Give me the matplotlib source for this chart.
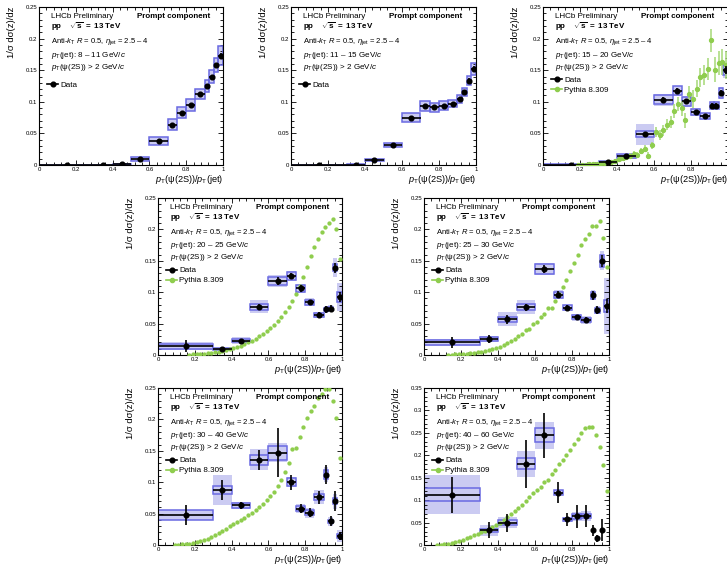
import numpy as np
import matplotlib
matplotlib.use("Agg")
import matplotlib.pyplot as plt
from matplotlib.lines import Line2D
from matplotlib.ticker import MultipleLocator, FuncFormatter

plt.rcParams['font.family'] = ['Liberation Sans', 'DejaVu Sans']
plt.rcParams['mathtext.fontset'] = 'custom'
plt.rcParams['mathtext.rm'] = 'Liberation Sans'
plt.rcParams['mathtext.it'] = 'Liberation Sans:italic'
plt.rcParams['mathtext.bf'] = 'Liberation Sans:bold'

# ---------------- measured z bins ----------------
z_centers = [0.15, 0.35, 0.45, 0.55, 0.65, 0.725, 0.775, 0.825, 0.875, 0.9125, 0.9375, 0.9625, 0.9875]
z_halfwidth = [0.15, 0.05, 0.05, 0.05, 0.05, 0.025, 0.025, 0.025, 0.025, 0.0125, 0.0125, 0.0125, 0.0125]

jet_pt_labels = ["8 – 11", "11 – 15", "15 – 20", "20 – 25", "25 – 30", "30 – 40", "40 – 60"]

# data: value, statistical error, outlined systematic box, shaded systematic box
data_8_11 = [0.0, 0.0, 0.0008, 0.0095, 0.038, 0.064, 0.083, 0.095, 0.112, 0.1255, 0.140, 0.158, 0.173]
stat_8_11 = [0.0005, 0.0005, 0.0008, 0.0015, 0.002, 0.002, 0.002, 0.002, 0.002, 0.002, 0.003, 0.003, 0.004]
sys_8_11 = [0.0005, 0.0005, 0.001, 0.003, 0.006, 0.009, 0.009, 0.0095, 0.008, 0.0095, 0.0105, 0.011, 0.015]
shade_8_11 = [0.0005, 0.0005, 0.001, 0.003, 0.006, 0.009, 0.009, 0.0095, 0.008, 0.0095, 0.0105, 0.011, 0.015]

data_11_15 = [0.0, 0.0003, 0.008, 0.032, 0.075, 0.093, 0.091, 0.094, 0.097, 0.104, 0.116, 0.1335, 0.1525]
stat_11_15 = [0.0005, 0.0005, 0.001, 0.002, 0.002, 0.002, 0.002, 0.002, 0.002, 0.003, 0.003, 0.004, 0.004]
sys_11_15 = [0.0005, 0.0005, 0.0015, 0.003, 0.007, 0.0075, 0.0065, 0.0065, 0.006, 0.006, 0.0065, 0.0075, 0.0095]
shade_11_15 = [0.0005, 0.0005, 0.0015, 0.003, 0.007, 0.0075, 0.0065, 0.0065, 0.006, 0.006, 0.0065, 0.0075, 0.0095]

data_15_20 = [0.0005, 0.005, 0.014, 0.0486, 0.103, 0.1175, 0.1005, 0.084, 0.077, 0.094, 0.094, 0.114, 0.150]
stat_15_20 = [0.001, 0.002, 0.002, 0.003, 0.004, 0.004, 0.004, 0.003, 0.003, 0.004, 0.004, 0.005, 0.006]
sys_15_20 = [0.001, 0.002, 0.003, 0.0045, 0.007, 0.007, 0.007, 0.005, 0.005, 0.005, 0.005, 0.008, 0.008]
shade_15_20 = [0.001, 0.002, 0.004, 0.017, 0.0095, 0.008, 0.008, 0.006, 0.006, 0.006, 0.006, 0.009, 0.012]

data_20_25 = [0.0143, 0.0095, 0.023, 0.077, 0.118, 0.126, 0.106, 0.084, 0.064, 0.0725, 0.074, 0.139, 0.092]
stat_20_25 = [0.009, 0.002, 0.003, 0.004, 0.007, 0.005, 0.005, 0.004, 0.004, 0.005, 0.005, 0.008, 0.008]
sys_20_25 = [0.004, 0.002, 0.003, 0.005, 0.007, 0.006, 0.005, 0.004, 0.003, 0.003, 0.003, 0.006, 0.008]
shade_20_25 = [0.007, 0.002, 0.006, 0.010, 0.010, 0.008, 0.007, 0.006, 0.005, 0.005, 0.005, 0.015, 0.022]

data_25_30 = [0.020, 0.0255, 0.057, 0.076, 0.137, 0.096, 0.075, 0.060, 0.056, 0.095, 0.0715, 0.150, 0.078]
stat_25_30 = [0.009, 0.006, 0.007, 0.006, 0.007, 0.006, 0.004, 0.004, 0.004, 0.007, 0.006, 0.010, 0.011]
sys_25_30 = [0.004, 0.003, 0.004, 0.005, 0.008, 0.005, 0.004, 0.003, 0.003, 0.006, 0.004, 0.010, 0.010]
shade_25_30 = [0.005, 0.005, 0.011, 0.011, 0.009, 0.007, 0.005, 0.006, 0.006, 0.008, 0.006, 0.015, 0.045]

data_30_40 = [0.048, 0.0875, 0.063, 0.136, 0.147, 0.100, 0.058, 0.0515, 0.076, 0.112, 0.0375, 0.0695, 0.014]
stat_30_40 = [0.016, 0.016, 0.005, 0.016, 0.039, 0.012, 0.007, 0.007, 0.010, 0.015, 0.008, 0.016, 0.006]
sys_30_40 = [0.008, 0.006, 0.004, 0.008, 0.011, 0.006, 0.004, 0.004, 0.005, 0.007, 0.003, 0.005, 0.003]
shade_30_40 = [0.008, 0.024, 0.005, 0.017, 0.015, 0.008, 0.007, 0.008, 0.011, 0.012, 0.007, 0.012, 0.010]

data_40_60 = [0.112, 0.0325, 0.050, 0.181, 0.245, 0.117, 0.057, 0.064, 0.0645, 0.0325, 0.015, 0.0335]
stat_40_60 = [0.040, 0.018, 0.020, 0.054, 0.050, 0.024, 0.015, 0.025, 0.025, 0.013, 0.008, 0.025]
sys_40_60 = [0.015, 0.003, 0.005, 0.012, 0.016, 0.005, 0.003, 0.005, 0.005, 0.0, 0.0, 0.0]
shade_40_60 = [0.043, 0.012, 0.012, 0.029, 0.030, 0.006, 0.006, 0.010, 0.012, 0.004, 0.004, 0.004]

# ---------------- Pythia 8.309 prediction (bin centres of width 0.02) ----------------
pythia_z = [0.01, 0.03, 0.05, 0.07, 0.09, 0.11, 0.13, 0.15, 0.17, 0.19,
            0.21, 0.23, 0.25, 0.27, 0.29, 0.31, 0.33, 0.35, 0.37, 0.39,
            0.41, 0.43, 0.45, 0.47, 0.49, 0.51, 0.53, 0.55, 0.57, 0.59,
            0.61, 0.63, 0.65, 0.67, 0.69, 0.71, 0.73, 0.75, 0.77, 0.79,
            0.81, 0.83, 0.85, 0.87, 0.89, 0.91, 0.93, 0.95, 0.97, 0.99]

pythia_15_20 = [0.0003, 0.0004, 0.0006, 0.0008, 0.001, 0.0015, 0.002, 0.003, 0.004, 0.0055,
                0.007, 0.009, 0.011, 0.013, 0.015, 0.018, 0.016, 0.022, 0.026, 0.015,
                0.031, 0.052, 0.047, 0.055, 0.064, 0.068, 0.086, 0.097, 0.090, 0.071,
                0.112, 0.104, 0.121, 0.139, 0.143, 0.152, 0.197, 0.151, 0.161, 0.163, 0.158]
pythia_err_15_20 = [0.0008, 0.0008, 0.001, 0.001, 0.001, 0.0012, 0.0015, 0.0015, 0.002, 0.002, 0.0025,
                    0.003, 0.003, 0.003, 0.0035, 0.004, 0.004, 0.0045, 0.005, 0.0055, 0.006,
                    0.008, 0.008, 0.009, 0.009, 0.010, 0.011, 0.011, 0.012, 0.012, 0.013,
                    0.014, 0.014, 0.015, 0.016, 0.017, 0.018, 0.020, 0.019, 0.020, 0.022]

pythia_20_25 = [0.0005, 0.0008, 0.0012, 0.0016, 0.002, 0.0026, 0.0032, 0.004, 0.005, 0.006,
                0.0072, 0.0088, 0.0105, 0.0125, 0.015, 0.0175, 0.020, 0.023, 0.026, 0.030,
                0.034, 0.038, 0.043, 0.048, 0.054, 0.061, 0.068, 0.077, 0.086, 0.097,
                0.110, 0.124, 0.140, 0.157, 0.172, 0.185, 0.196, 0.204, 0.210, 0.216,
                0.201, 0.153]

pythia_25_30 = [0.0003, 0.0005, 0.0008, 0.001, 0.0015, 0.002, 0.0025, 0.003, 0.004, 0.005,
                0.006, 0.0075, 0.009, 0.011, 0.013, 0.016, 0.019, 0.022, 0.025, 0.031,
                0.034, 0.040, 0.041, 0.050, 0.053, 0.060, 0.066, 0.075, 0.075, 0.086,
                0.097, 0.108, 0.120, 0.133, 0.146, 0.160, 0.175, 0.185, 0.192, 0.206,
                0.206, 0.213, 0.186, 0.140]

pythia_30_40 = [0.0003, 0.0005, 0.001, 0.0015, 0.002, 0.003, 0.004, 0.006, 0.008, 0.010,
                0.013, 0.016, 0.019, 0.022, 0.026, 0.030, 0.033, 0.036, 0.040, 0.043,
                0.047, 0.051, 0.055, 0.060, 0.065, 0.071, 0.078, 0.085, 0.094, 0.104,
                0.116, 0.130, 0.153, 0.154, 0.172, 0.188, 0.202, 0.213, 0.222, 0.234,
                0.240, 0.248, 0.249, 0.229, 0.203, 0.138]

pythia_40_60 = [0.0003, 0.001, 0.002, 0.003, 0.005, 0.007, 0.009, 0.012, 0.015, 0.018,
                0.022, 0.025, 0.028, 0.032, 0.036, 0.040, 0.044, 0.048, 0.055, 0.062,
                0.068, 0.075, 0.082, 0.090, 0.098, 0.108, 0.115, 0.122, 0.130, 0.140,
                0.145, 0.158, 0.168, 0.180, 0.190, 0.200, 0.212, 0.225, 0.237, 0.250,
                0.261, 0.262, 0.262, 0.246, 0.218, 0.178, 0.121]

# ---------------- style ----------------
W, H = 727, 566
SHADE = '#cbcbf2'
EDGE = '#6a6ae2'
GREEN = '#8fcd4e'
GREEN_ERR = '#a6d877'
TXT = 5.8

panels = [
    # axes box in pixels (left, top, width, height), data arrays, prediction, y range
    dict(box=(39, 7, 184, 158), y=data_8_11, st=stat_8_11, sy=sys_8_11, sh=shade_8_11,
         py=None, pe=None, jet=jet_pt_labels[0], ymax=0.25),
    dict(box=(291, 7, 185, 158), y=data_11_15, st=stat_11_15, sy=sys_11_15, sh=shade_11_15,
         py=None, pe=None, jet=jet_pt_labels[1], ymax=0.25),
    dict(box=(543, 7, 185, 158), y=data_15_20, st=stat_15_20, sy=sys_15_20, sh=shade_15_20,
         py=pythia_15_20, pe=pythia_err_15_20, jet=jet_pt_labels[2], ymax=0.25),
    dict(box=(158, 198, 184, 157), y=data_20_25, st=stat_20_25, sy=sys_20_25, sh=shade_20_25,
         py=pythia_20_25, pe=None, jet=jet_pt_labels[3], ymax=0.25),
    dict(box=(424, 198, 185, 157), y=data_25_30, st=stat_25_30, sy=sys_25_30, sh=shade_25_30,
         py=pythia_25_30, pe=None, jet=jet_pt_labels[4], ymax=0.25),
    dict(box=(158, 388, 184, 157), y=data_30_40, st=stat_30_40, sy=sys_30_40, sh=shade_30_40,
         py=pythia_30_40, pe=None, jet=jet_pt_labels[5], ymax=0.25),
    dict(box=(424, 388, 185, 157), y=data_40_60, st=stat_40_60, sy=sys_40_60, sh=shade_40_60,
         py=pythia_40_60, pe=None, jet=jet_pt_labels[6], ymax=0.35),
]

fig = plt.figure(figsize=(W / 100, H / 100), dpi=100)
fig.patch.set_facecolor('white')

fmt = FuncFormatter(lambda v, p: f'{v:g}')

for p in panels:
    l, t, w, h = p['box']
    ax = fig.add_axes([l / W, 1 - (t + h) / H, w / W, h / H])
    n = len(p['y'])
    xc = np.array(z_centers[:n])
    hw = np.array(z_halfwidth[:n])
    y = np.array(p['y'])
    st = np.array(p['st'])
    sy = np.array(p['sy'])
    sh = np.array(p['sh'])

    # systematic uncertainty boxes
    ax.bar(xc, 2 * sh, width=2 * hw, bottom=y - sh, color=SHADE, edgecolor='none', zorder=1)
    ax.bar(xc, 2 * sy, width=2 * hw, bottom=y - sy, fill=False, edgecolor=EDGE,
           linewidth=1.1, zorder=2)

    handles = []
    labels = []
    # Pythia prediction
    if p['py'] is not None:
        pv = np.array(p['py'])
        pz = np.array(pythia_z[-len(pv):])
        if p['pe'] is not None:
            ax.errorbar(pz, pv, yerr=np.array(p['pe']), fmt='o', color=GREEN, ecolor=GREEN_ERR,
                        ms=2.8, elinewidth=1.1, capsize=0, zorder=3)
        else:
            ax.plot(pz, pv, 'o', color=GREEN, ms=3.1, mew=0, zorder=3)

    # data points
    ax.errorbar(xc, y, xerr=hw, yerr=st, fmt='o', color='black', ms=3.4,
                elinewidth=1.2, capsize=0, zorder=4)
    handles.append(Line2D([], [], color='black', marker='o', ms=3.4, lw=1.2))
    labels.append('Data')
    if p['py'] is not None:
        handles.append(Line2D([], [], color=GREEN, marker='o', ms=3.0, lw=1.2))
        labels.append('Pythia 8.309')

    ax.set_xlim(0, 1)
    ax.set_ylim(0, p['ymax'])
    ax.xaxis.set_major_locator(MultipleLocator(0.2))
    ax.xaxis.set_minor_locator(MultipleLocator(0.04))
    ax.yaxis.set_major_locator(MultipleLocator(0.05))
    ax.yaxis.set_minor_locator(MultipleLocator(0.01))
    ax.xaxis.set_major_formatter(fmt)
    ax.yaxis.set_major_formatter(fmt)
    ax.tick_params(which='both', direction='in', top=True, right=True,
                   labelsize=4.3, width=0.6, pad=1.5)
    ax.tick_params(which='major', length=3.8)
    ax.tick_params(which='minor', length=2.0)
    for s in ax.spines.values():
        s.set_linewidth(0.8)

    # axis titles
    ax.text(1.0, -0.092, r'$p_{\rm T}$(ψ(2S))/$p_{\rm T}$(jet)', transform=ax.transAxes,
            ha='right', va='center', fontsize=6.6)
    ax.text(-0.15, 1.0, '1/σ dσ(z)/dz', transform=ax.transAxes, rotation=90,
            ha='center', va='top', fontsize=6.8)

    # annotations
    ax.text(0.063, 0.94, 'LHCb Preliminary', transform=ax.transAxes,
            ha='left', va='center', fontsize=TXT)
    ax.text(0.53, 0.94, 'Prompt component', transform=ax.transAxes,
            ha='left', va='center', fontsize=TXT, fontweight='bold')
    ax.text(0.063, 0.877, r'$\mathbf{pp}\ \ \ \ \sqrt{\mathbf{s}}\mathbf{\ =\ 13\ TeV}$',
            transform=ax.transAxes, ha='left', va='center', fontsize=TXT)
    ax.text(0.063, 0.778, r'Anti-$k_{\rm T}$ $R$ = 0.5, $\eta_{\rm jet}$ = 2.5 – 4',
            transform=ax.transAxes, ha='left', va='center', fontsize=5.5)
    ax.text(0.063, 0.695, r'$p_{\rm T}$(jet): ' + p['jet'] + r' GeV/$c$',
            transform=ax.transAxes, ha='left', va='center', fontsize=TXT)
    ax.text(0.063, 0.62, r'$p_{\rm T}$(ψ(2S)) > 2 GeV/$c$',
            transform=ax.transAxes, ha='left', va='center', fontsize=TXT)
    ax.legend(handles, labels, loc='center left', bbox_to_anchor=(0.045, 0.506),
              frameon=False, fontsize=TXT, handlelength=1.3, handletextpad=0.3,
              labelspacing=0.3, borderpad=0.0, borderaxespad=0.0)

fig.savefig('out.png', dpi=100, facecolor='white')
